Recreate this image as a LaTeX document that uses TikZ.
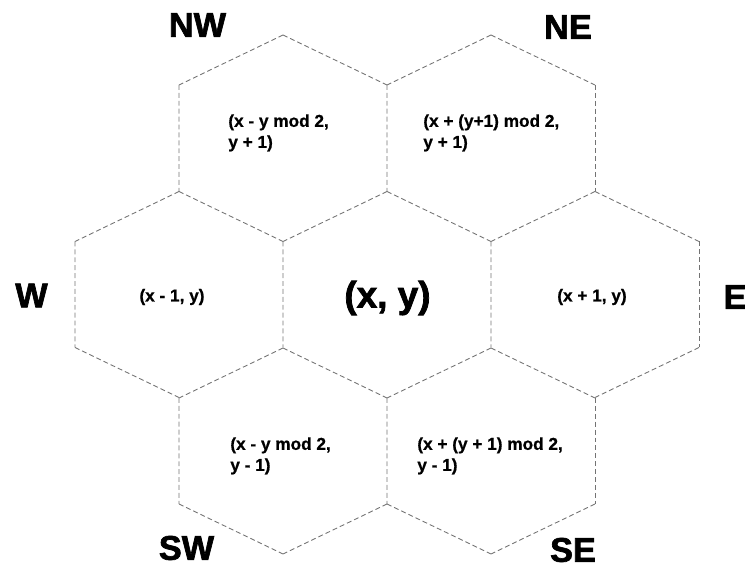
\documentclass[tikz,border=0pt]{standalone}
\usepackage{fontspec}
\setmainfont{Liberation Sans}
\newfontfamily\heavyfont[FakeBold=2]{Liberation Sans Bold}
\newfontfamily\cellfont[FakeBold=0.8]{Liberation Sans Bold}
\begin{document}
\begin{tikzpicture}[
    x=0.2mm, y=-0.2mm,
    hexline/.style={draw=black!55, line width=0.5pt, dash pattern=on 2.8pt off 1.7pt},
    dirlbl/.style={font=\fontsize{19.5}{22}\selectfont\heavyfont, inner sep=0pt},
    cell/.style={font=\fontsize{9.8}{12}\selectfont\cellfont, align=left, inner sep=0pt},
  ]
  \useasboundingbox (0,0) rectangle (745,567);
  % hex centres
  \foreach \c/\px/\py in {w/179/294.5, c/387/294.5, e/595/294.5,
                          nw/283/138, ne/491/138, sw/283/451, se/491/451}
    \coordinate (h\c) at (\px,\py);
  % upper edges and left side of every cell
  \foreach \c in {w, c, e, nw, ne, sw, se}
    \draw[hexline, shift={(h\c)}] (0,-103) -- (104,-53) (0,-103) -- (-104,-53)
      (-104,-53) -- (-104,53);
  % outer edges that no other cell draws
  \foreach \c/\ax/\ay/\bx/\by in {ne/104/-53/104/53, e/104/-53/104/53, se/104/-53/104/53,
                                  w/-104/53/0/103, e/104/53/0/103,
                                  sw/-104/53/0/103, sw/104/53/0/103,
                                  se/-104/53/0/103, se/104/53/0/103}
    \draw[hexline, shift={(h\c)}] (\ax,\ay) -- (\bx,\by);

  % neighbour cells
  \node[cell, anchor=north west] (tnw) at (228,114) {(x - y mod 2,\\y + 1)};
  \node[cell, anchor=north west] (tne) at (423,114) {(x + (y+1) mod 2,\\y + 1)};
  \node[cell, anchor=north west] (tsw) at (230,437) {(x - y mod 2,\\y - 1)};
  \node[cell, anchor=north west] (tse) at (417,437) {(x + (y + 1) mod 2,\\y - 1)};
  \node[cell] (tw) at (172,297) {(x - 1, y)};
  \node[cell] (te) at (592,297) {(x + 1, y)};
  \node[font=\fontsize{21}{24}\selectfont\heavyfont, inner sep=0pt] (tc) at (387.5,298) {(x, y)};

  % directions
  \foreach \d/\px/\py in {NW/197.5/25, NE/568/27, W/31.5/295.5, E/735/297,
                          SW/186.5/548, SE/573/550}
    \node[dirlbl] (d\d) at (\px,\py) {\d};
\end{tikzpicture}
\end{document}
